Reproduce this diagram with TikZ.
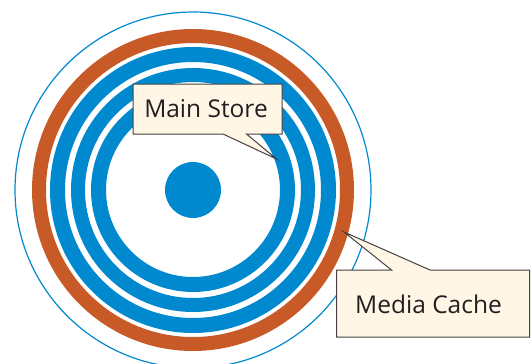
\documentclass[tikz,border=0pt]{standalone}
\usepackage{fontspec}
\setmainfont{Open Sans}
\usetikzlibrary{calc}
\definecolor{discblue}{HTML}{0089CF}
\definecolor{discorange}{HTML}{C85A27}
\definecolor{cream}{HTML}{FFF6E6}
\definecolor{ink}{HTML}{231F20}
\tikzset{
  ring/.style={draw=discblue, line width=#1},
  cacheband/.style={draw=discorange, line width=#1},
  labelbox/.style={inner sep=0pt, outer sep=0pt, minimum width=#1, text=ink, font=\fontsize{24.5}{27}\selectfont},
  calloutline/.style={draw=ink!85, fill=cream, line width=1pt, line join=miter},
}
\begin{document}
\begin{tikzpicture}[x=1pt, y=-1pt]
\useasboundingbox (0,0) rectangle (531,364);
\coordinate (c) at (193,190);
% disc
\draw[draw=discblue, line width=1.2pt] (c) circle (178);
\draw[cacheband=14pt] (c) circle (154);
\draw[ring=15pt] (c) circle (135.5);
\draw[ring=14pt] (c) circle (115);
\draw[ring=15pt] (c) circle (94.5);
\fill[discblue] (c) circle (28);
% Main Store callout
\coordinate (mstip) at (276.5,159);
\coordinate (msnw) at (133,84);
\coordinate (msse) at (282,134);
\draw[calloutline] (msnw) -- (msnw -| msse) -- (msse) -- (246.5,134) -- (mstip) -- (223,134) -- (msnw |- msse) -- cycle;
\node[labelbox=0pt] (ms) at (206,108.5) {Main Store};
% Media Cache callout
\coordinate (mctip) at (344,232);
\coordinate (mcnw) at (336.5,270);
\coordinate (mcse) at (529.5,337);
\draw[calloutline] (mcnw) -- (391.5,270) -- (mctip) -- (430,270) -- (mcnw -| mcse) -- (mcse) -- (mcnw |- mcse) -- cycle;
\node[labelbox=0pt] (mc) at (428.5,304) {Media Cache};
\end{tikzpicture}
\end{document}
